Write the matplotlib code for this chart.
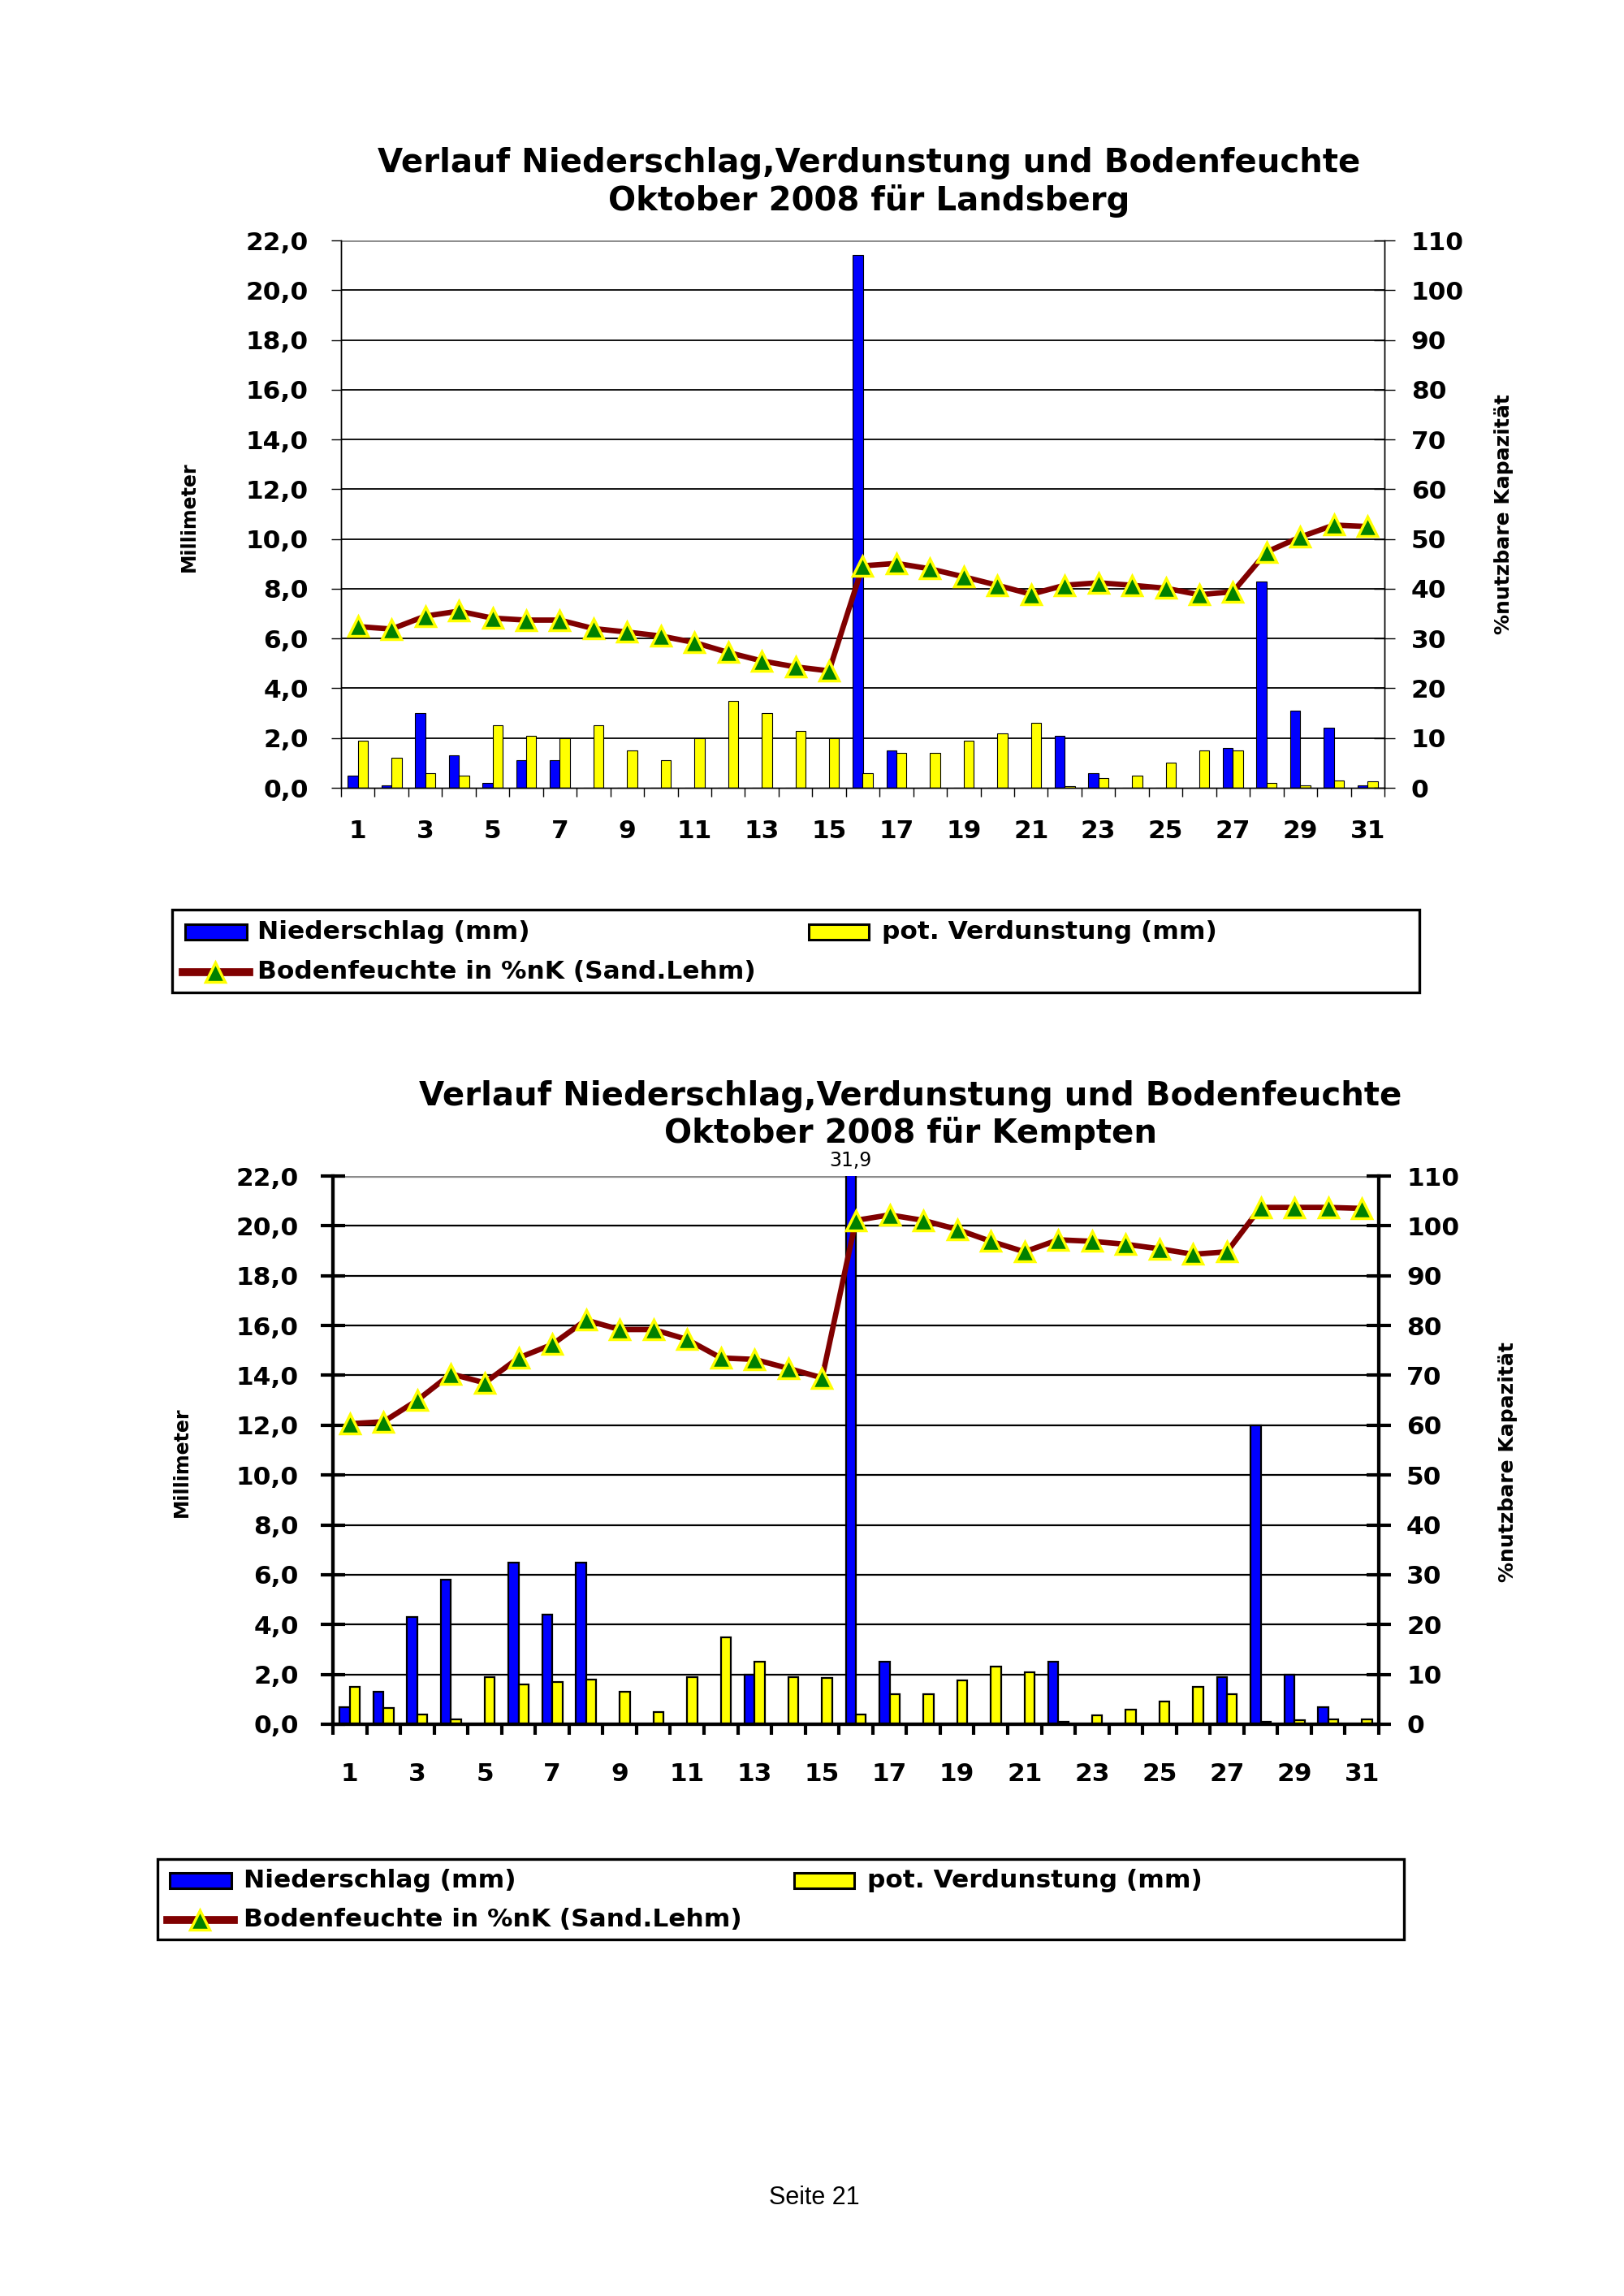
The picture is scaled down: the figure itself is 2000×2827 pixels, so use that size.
import numpy as np
import matplotlib
matplotlib.use("Agg")
import matplotlib.pyplot as plt
from matplotlib.patches import Rectangle
from matplotlib.lines import Line2D

# Tage im Oktober 2008
days = np.arange(1, 32)

# Landsberg
nied_landsberg = [0.5, 0.1, 3.0, 1.3, 0.2, 1.1, 1.1, 0, 0, 0, 0, 0, 0, 0, 0, 21.4,
                  1.5, 0, 0, 0, 0, 2.1, 0.6, 0, 0, 0, 1.6, 8.3, 3.1, 2.4, 0.1]
verd_landsberg = [1.9, 1.2, 0.6, 0.5, 2.5, 2.1, 2.0, 2.5, 1.5, 1.1, 2.0, 3.5, 3.0, 2.3, 2.0, 0.6,
                  1.4, 1.4, 1.9, 2.2, 2.6, 0.05, 0.4, 0.5, 1.0, 1.5, 1.5, 0.2, 0.1, 0.3, 0.25]
boden_landsberg = [32.4, 31.9, 34.5, 35.5, 34.1, 33.7, 33.7, 32.0, 31.3, 30.5, 29.2, 27.2, 25.5, 24.3, 23.5, 44.6,
                   45.1, 44.0, 42.4, 40.7, 38.9, 40.7, 41.2, 40.7, 40.1, 38.8, 39.4, 47.4, 50.4, 52.8, 52.5]

# Kempten
nied_kempten = [0.7, 1.3, 4.3, 5.8, 0, 6.5, 4.4, 6.5, 0, 0, 0, 0, 2.0, 0, 0, 31.9,
                2.5, 0, 0, 0, 0, 2.5, 0, 0, 0, 0, 1.9, 12.0, 2.0, 0.7, 0]
verd_kempten = [1.5, 0.65, 0.4, 0.2, 1.9, 1.6, 1.7, 1.8, 1.3, 0.5, 1.9, 3.5, 2.5, 1.9, 1.85, 0.4,
                1.2, 1.2, 1.75, 2.3, 2.1, 0.1, 0.35, 0.6, 0.9, 1.5, 1.2, 0.1, 0.15, 0.2, 0.2]
boden_kempten = [60.3, 60.7, 65.0, 70.3, 68.5, 73.5, 76.2, 81.1, 79.2, 79.2, 77.2, 73.5, 73.2, 71.4, 69.5, 101.1,
                 102.2, 101.1, 99.3, 96.9, 94.8, 97.2, 96.9, 96.3, 95.4, 94.3, 94.8, 103.7, 103.7, 103.7, 103.5]

title1 = "Verlauf Niederschlag,Verdunstung und Bodenfeuchte"
label_nied = "Niederschlag (mm)"
label_verd = "pot. Verdunstung (mm)"
label_boden = "Bodenfeuchte in %nK (Sand.Lehm)"

BLUE = "#0000FF"
YELLOW = "#FFFF00"
DARKRED = "#800000"
GREEN = "#008000"
FONT = "DejaVu Sans"
TICKSIZE = 22.5
LEGSIZE = 22.5
TITLESIZE = 29

W, H = 2000, 2827
fig = plt.figure(figsize=(W / 100, H / 100), dpi=100)


def fx(px):
    return px / W


def fy(py):
    return 1 - py / H


def chart(box, nied, verd, boden, thick, title_xy, title2, pads):
    left, top, right, bottom = box
    ax = fig.add_axes([fx(left), fy(bottom), fx(right - left), (bottom - top) / H])
    spine_lw = 3.0 if thick else 1.0
    grid_lw = 1.6 if thick else 1.3
    edge_lw = 1.6 if thick else 0.8

    # Gitterlinien
    for v in range(2, 21, 2):
        ax.axhline(v, color="black", lw=grid_lw, zorder=0)
    ax.axhline(22, color="#8c8c8c", lw=grid_lw + 0.8, zorder=0)

    ax.bar(days - 0.15, nied, width=0.3, color=BLUE, edgecolor="black", lw=edge_lw, zorder=2)
    ax.bar(days + 0.15, verd, width=0.3, color=YELLOW, edgecolor="black", lw=edge_lw, zorder=2)

    ax.set_xlim(0.5, 31.5)
    ax.set_ylim(0, 22)
    ax.spines["top"].set_visible(False)
    for s in ("left", "right", "bottom"):
        ax.spines[s].set_linewidth(spine_lw)

    ax.set_xticks(np.arange(0.5, 32, 1))
    ax.set_xticklabels([])
    ax.set_xticks(days[::2], minor=True)
    ax.set_xticklabels([str(d) for d in days[::2]], minor=True)
    ax.tick_params(axis="x", which="major", length=8 if not thick else 9, width=spine_lw, direction="out")
    ax.tick_params(axis="x", which="minor", length=0, pad=pads[0], labelsize=TICKSIZE)

    yt = np.arange(0, 23, 2)
    ax.set_yticks(yt)
    ax.set_yticklabels([f"{v:.1f}".replace(".", ",") for v in yt])
    ax.tick_params(axis="y", length=(9 if not thick else 21), width=spine_lw,
                   direction=("out" if not thick else "inout"), pad=pads[1], labelsize=TICKSIZE)
    for t in ax.get_xticklabels(minor=True) + ax.get_yticklabels():
        t.set_fontweight("bold")
        t.set_family(FONT)

    ax2 = ax.twinx()
    ax2.set_ylim(0, 110)
    ax2.set_yticks(range(0, 111, 10))
    ax2.tick_params(axis="y", length=(19 if not thick else 21), width=spine_lw,
                    direction="inout", pad=pads[2], labelsize=TICKSIZE)
    for t in ax2.get_yticklabels():
        t.set_fontweight("bold")
        t.set_family(FONT)
    ax2.spines["top"].set_visible(False)
    for s in ("left", "right", "bottom"):
        ax2.spines[s].set_linewidth(spine_lw)
    ax2.plot(days, boden, color=DARKRED, lw=4.8, marker="^", ms=17,
             mfc=GREEN, mec=YELLOW, mew=2.5, zorder=3, clip_on=False)

    # Titel
    fig.text(fx(title_xy[0]), fy(title_xy[1]), title1, ha="center", va="center",
             fontsize=TITLESIZE, fontweight="bold", family=FONT)
    fig.text(fx(title_xy[0]), fy(title_xy[1] + 46), title2, ha="center", va="center",
             fontsize=TITLESIZE, fontweight="bold", family=FONT)
    return ax, ax2


def legend_box(x0, y0, x1, y1, row1, row2, xb, xt, xy, xyt):
    fig.add_artist(Rectangle((fx(x0), fy(y1)), fx(x1 - x0), (y1 - y0) / H,
                             transform=fig.transFigure, fill=False, lw=2.4, ec="black"))
    ph = 19
    fig.add_artist(Rectangle((fx(xb), fy(row1 + ph / 2)), fx(76), ph / H, transform=fig.transFigure,
                             fc=BLUE, ec="black", lw=2.2))
    fig.text(fx(xt), fy(row1), label_nied, va="center", ha="left", fontsize=LEGSIZE,
             fontweight="bold", family=FONT)
    fig.add_artist(Rectangle((fx(xy), fy(row1 + ph / 2)), fx(74), ph / H, transform=fig.transFigure,
                             fc=YELLOW, ec="black", lw=2.2))
    fig.text(fx(xyt), fy(row1), label_verd, va="center", ha="left", fontsize=LEGSIZE,
             fontweight="bold", family=FONT)
    fig.add_artist(Line2D([fx(xb - 3), fx(xb + 79)], [fy(row2), fy(row2)], transform=fig.transFigure,
                          color=DARKRED, lw=7))
    fig.add_artist(Line2D([fx(xb + 37)], [fy(row2)], transform=fig.transFigure, marker="^",
                          ms=17, mfc=GREEN, mec=YELLOW, mew=2.5, lw=0))
    fig.text(fx(xt), fy(row2), label_boden, va="center", ha="left", fontsize=LEGSIZE,
             fontweight="bold", family=FONT)


# Diagramm Landsberg
chart((420, 296, 1705, 970), nied_landsberg, verd_landsberg, boden_landsberg, False,
      (1070, 201), "Oktober 2008 für Landsberg", (28, 20, 14))
fig.text(fx(233), fy(636), "Millimeter", rotation=90, ha="center", va="center",
         fontsize=17, fontweight="bold", family=FONT)
fig.text(fx(1852), fy(633), "%nutzbare Kapazität", rotation=90, ha="center", va="center",
         fontsize=18, fontweight="bold", family=FONT)
legend_box(212, 1120, 1748, 1222, 1147, 1197, 228, 317, 996, 1086)

# Diagramm Kempten
axk, axk2 = chart((410, 1448, 1698, 2123), nied_kempten, verd_kempten, boden_kempten, True,
                  (1121, 1350), "Oktober 2008 für Kempten", (34, 20, 14))
axk.annotate(f"{nied_kempten[15]:.1f}".replace(".", ","), xy=(days[15] - 0.15, 22),
             xytext=(0, 14), textcoords="offset points", ha="center", va="center",
             fontsize=17, family=FONT, annotation_clip=False)
fig.text(fx(224), fy(1800), "Millimeter", rotation=90, ha="center", va="center",
         fontsize=17, fontweight="bold", family=FONT)
fig.text(fx(1857), fy(1800), "%nutzbare Kapazität", rotation=90, ha="center", va="center",
         fontsize=18, fontweight="bold", family=FONT)
legend_box(194, 2289, 1729, 2388, 2315, 2364, 209, 300, 978, 1068)

fig.text(fx(1003), fy(2706), "Seite 21", ha="center", va="center", fontsize=22,
         family="Liberation Sans")

fig.savefig("out.png", dpi=100)
